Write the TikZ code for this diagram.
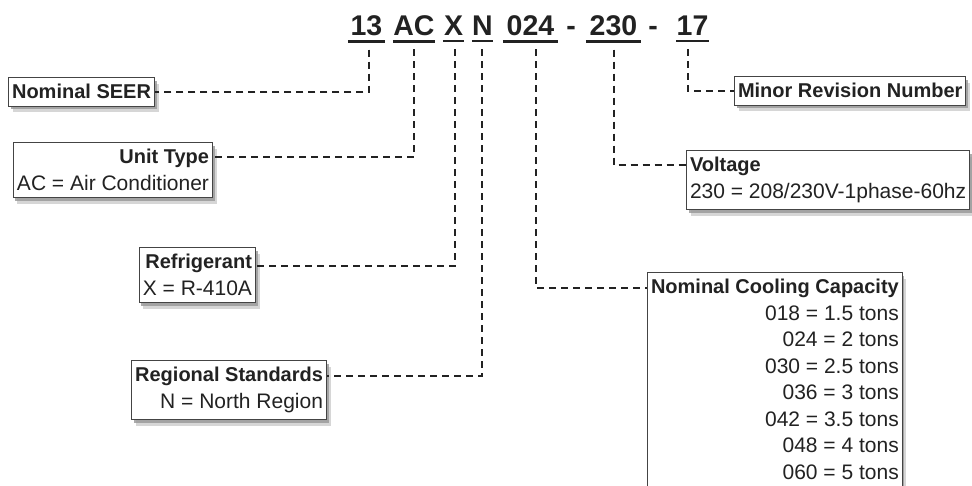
\documentclass[tikz,border=0pt]{standalone}
\usepackage{fontspec}
\setmainfont{Liberation Sans}
\usetikzlibrary{positioning,shadows}
\definecolor{ink}{HTML}{222222}
\definecolor{frame}{HTML}{444444}
\newcommand\head[1]{{\fontsize{20}{26.5}\selectfont\bfseries #1}}

\begin{document}
\begin{tikzpicture}[x=1pt,y=-1pt,
    code/.style={font=\fontsize{28.5}{30}\selectfont\bfseries,text=ink,
                 inner xsep=0pt,inner ysep=6pt,anchor=base,minimum width=#1},
    code/.default=0pt,
    uline/.style={draw=ink,line width=2.4pt},
    conn/.style={draw=ink,line width=2.2pt,dash pattern=on 7pt off 5pt,
                 shorten <=8pt},
    infobox/.style={draw=frame,line width=1pt,fill=white,text=ink,
                 inner xsep=3.5pt,inner ysep=7pt,
                 font=\fontsize{21}{26.5}\selectfont,
                 drop shadow={shadow xshift=2pt,shadow yshift=-3pt,
                              fill=black!55,opacity=.6},
                 drop shadow={shadow xshift=4pt,shadow yshift=-6pt,
                              fill=black!40,opacity=.4}}]

  \useasboundingbox (0,0) rectangle (972,485);

  \node[code=37] at (366.5,35) (t13) {13};
  \node[code=42] at (414,35) (tAC) {AC};
  \node[code=21] at (453.5,35) (tX) {X};
  \node[code=21] at (482.5,35) (tN) {N};
  \node[code=55] at (530.5,35) (t024) {024};
  \node[code] at (571,35) (dashA) {-};
  \node[code=55] at (613.5,35) (t230) {230};
  \node[code] at (653,35) (dashB) {-};
  \node[code=29] at (692.5,35) (t17) {17};
  \foreach \p in {t13,tAC,tX,tN,t024,t230,t17}
    \draw[uline] (\p.south west) -- (\p.south east);

  \node[infobox,anchor=north east,align=right] at (155,77) (seer)
    {\head{Nominal SEER}};
  \node[infobox,anchor=north east,align=right] at (213,142) (unit)
    {\head{Unit Type}\\AC = Air Conditioner};
  \node[infobox,anchor=north east,align=right] at (256,247) (refr)
    {\head{Refrigerant}\\X = R-410A};
  \node[infobox,anchor=north east,align=right] at (327,360) (region)
    {\head{Regional Standards}\\N = North Region};
  \node[infobox,anchor=north west,align=right] at (647,272) (cap)
    {\head{Nominal Cooling Capacity}\\018 = 1.5 tons\\024 = 2 tons\\
     030 = 2.5 tons\\036 = 3 tons\\042 = 3.5 tons\\048 = 4 tons\\060 = 5 tons};
  \node[infobox,anchor=north west,align=left] at (686,150) (volt)
    {\head{Voltage}\\230 = 208/230V-1phase-60hz};
  \node[infobox,anchor=north west] at (734,76) (minor)
    {\head{Minor Revision Number}};

  % where the leaders meet the boxes
  \coordinate (unitin) at ([yshift=-15pt]unit.north east);
  \coordinate (refrin) at ([yshift=-19pt]refr.north east);
  \coordinate (regionin) at ([yshift=-16pt]region.north east);
  \coordinate (capin) at ([yshift=-16pt]cap.north west);
  \coordinate (voltin) at ([yshift=-15pt]volt.north west);

  \draw[conn] ([xshift=2.5pt]t13.south) |- (seer.east);
  \draw[conn] (tAC.south) |- (unitin);
  \draw[conn] ([xshift=1.5pt]tX.south) |- (refrin);
  \draw[conn] ([xshift=-0.5pt]tN.south) |- (regionin);
  \draw[conn] ([xshift=5.5pt]t024.south) |- (capin);
  \draw[conn] ([xshift=0.5pt]t230.south) |- (voltin);
  \draw[conn] ([xshift=-4.5pt]t17.south) |- (minor.west);

\end{tikzpicture}
\end{document}
